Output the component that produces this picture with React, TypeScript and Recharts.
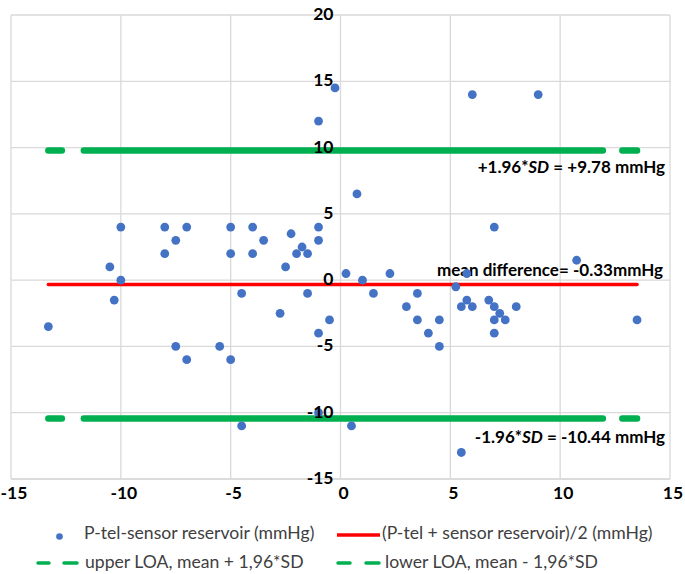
import React from "react";
import { ScatterChart, Scatter, XAxis, YAxis, CartesianGrid } from "recharts";

// Bland-Altman: mean of the two methods (x) vs difference (y)
const meanValues = [
  -13.3, -10.5, -10.3, -10, -10, -8, -8, -7.5, -7.5, -7, -7, -5.5, -5, -5, -5,
  -4.5, -4.5, -4, -4, -3.5, -2.75, -2.5, -2.25, -2, -1.75, -1.5, -1.5, -0.25,
  -1, -1, -1, -1, -1, -0.5, 0.25, 0.5, 0.75, 1, 1.5, 2.25, 3, 3.5, 3.5, 4, 4.5,
  4.5, 5.25, 5.5, 5.5, 5.75, 5.75, 6, 6, 6.75, 7, 7, 7, 7, 7.25, 7.5, 8, 9,
  10.75, 13.5,
];
const diffValues = [
  -3.5, 1, -1.5, 4, 0, 4, 2, 3, -5, 4, -6, -5, 4, 2, -6,
  -1, -11, 4, 2, 3, -2.5, 1, 3.5, 2, 2.5, 2, -1, 14.5,
  12, 4, 3, -4, -10, -3, 0.5, -11, 6.5, 0, -1, 0.5, -2, -1, -3, -4, -3,
  -5, -0.5, -2, -13, 0.5, -1.5, -2, 14, -1.5, 4, -2, -3, -4, -2.5, -3, -2, 14,
  1.5, -3,
];

const meanDiff = -0.33;
const upperLoa = 9.78;
const lowerLoa = -10.44;

const xTicks = [-15, -10, -5, 0, 5, 10, 15];
const yTicks = [-15, -10, -5, 0, 5, 10, 15, 20];

const points = meanValues.map((x, i) => ({ x, y: diffValues[i] }));
const xMin = Math.min(...meanValues);
const xMax = Math.max(...meanValues);
const meanLine = [{ x: xMin, y: meanDiff }, { x: xMax, y: meanDiff }];
const upperLine = [{ x: xMin, y: upperLoa }, { x: xMax, y: upperLoa }];
const lowerLine = [{ x: xMin, y: lowerLoa }, { x: xMax, y: lowerLoa }];

const FONT = "Lato, 'Open Sans', sans-serif";
const GREEN = "#00B050";
const BLUE = "#4472C4";
const GRID = "#d9d9d9";
const LOA_DASH = "13.5 22 519 19.5 20";

const Dot = (props: any) => <circle cx={props.cx} cy={props.cy} r={4.4} fill={BLUE} />;
const NoShape = () => <g />;

// y axis crosses at x = 0, so its labels sit in the middle of the plot
const YTick = (props: any) => (
  <text x={333.5} y={props.y} dy={5} textAnchor="end" fontFamily={FONT} fontWeight={700} fontSize={17.5} fill="#000">
    {props.payload.value}
  </text>
);

const XTick = (props: any) => (
  <text x={props.x} y={props.y} dx={3} dy={12} textAnchor="middle" fontFamily={FONT} fontWeight={700} fontSize={17.5} fill="#000">
    {props.payload.value}
  </text>
);

const Note = ({ x, y, children }: { x: number; y: number; children: React.ReactNode }) => (
  <text x={x} y={y} textAnchor="end" fontFamily={FONT} fontWeight={700} fontSize={17} fill="#000">
    {children}
  </text>
);

const legendText: React.CSSProperties = {
  fontFamily: FONT, fontSize: 17.6, color: "#404040", position: "absolute", whiteSpace: "nowrap", lineHeight: "20px",
};

export default function App() {
  return (
    <div style={{ position: "absolute", left: 0, top: 0, width: 685, height: 574, background: "#fff" }}>
      <ScatterChart width={685} height={574} margin={{ top: 15, right: 15, left: 10, bottom: 0 }}>
        <CartesianGrid stroke={GRID} strokeWidth={1.3} />
        <XAxis
          type="number"
          dataKey="x"
          domain={[-15, 15]}
          ticks={xTicks}
          height={95}
          axisLine={{ stroke: GRID, strokeWidth: 1.3 }}
          tickLine={false}
          tick={<XTick />}
          interval={0}
        />
        <YAxis
          type="number"
          dataKey="y"
          domain={[-15, 20]}
          ticks={yTicks}
          width={1}
          axisLine={false}
          tickLine={false}
          tick={<YTick />}
          interval={0}
        />
        <Scatter data={upperLine} isAnimationActive={false} shape={<NoShape />}
          line={{ stroke: GREEN, strokeWidth: 6.5, strokeLinecap: "round", strokeDasharray: LOA_DASH }} />
        <Scatter data={lowerLine} isAnimationActive={false} shape={<NoShape />}
          line={{ stroke: GREEN, strokeWidth: 6.5, strokeLinecap: "round", strokeDasharray: LOA_DASH }} />
        <Scatter data={meanLine} isAnimationActive={false} shape={<NoShape />}
          line={{ stroke: "#FF0000", strokeWidth: 3.5, strokeLinecap: "round" }} />
        <Scatter data={points} isAnimationActive={false} shape={<Dot />} />
        <Note x={665} y={173}>
          +1.96*<tspan fontStyle="italic">SD</tspan> = +9.78 mmHg
        </Note>
        <Note x={663} y={276}>mean difference= -0.33mmHg</Note>
        <Note x={665} y={443}>
          -1.96*<tspan fontStyle="italic">SD</tspan> = -10.44 mmHg
        </Note>
      </ScatterChart>

      {/* legend */}
      <svg width={685} height={60} style={{ position: "absolute", left: 0, top: 515 }}>
        <circle cx={59.5} cy={21.5} r={3.3} fill={BLUE} />
        <line x1={337} y1={20} x2={380} y2={20} stroke="#FF0000" strokeWidth={3.5} />
        <line x1={38} y1={48} x2={49} y2={48} stroke={GREEN} strokeWidth={3.5} strokeLinecap="round" />
        <line x1={64} y1={48} x2={77} y2={48} stroke={GREEN} strokeWidth={3.5} strokeLinecap="round" />
        <line x1={338} y1={48} x2={350} y2={48} stroke={GREEN} strokeWidth={3.5} strokeLinecap="round" />
        <line x1={366} y1={48} x2={379} y2={48} stroke={GREEN} strokeWidth={3.5} strokeLinecap="round" />
      </svg>
      <div style={{ ...legendText, left: 84, top: 523 }}>P-tel-sensor reservoir (mmHg)</div>
      <div style={{ ...legendText, left: 382, top: 523 }}>(P-tel + sensor reservoir)/2 (mmHg)</div>
      <div style={{ ...legendText, left: 85, top: 552 }}>upper LOA, mean + 1,96*SD</div>
      <div style={{ ...legendText, left: 385, top: 552 }}>lower LOA, mean - 1,96*SD</div>
    </div>
  );
}
